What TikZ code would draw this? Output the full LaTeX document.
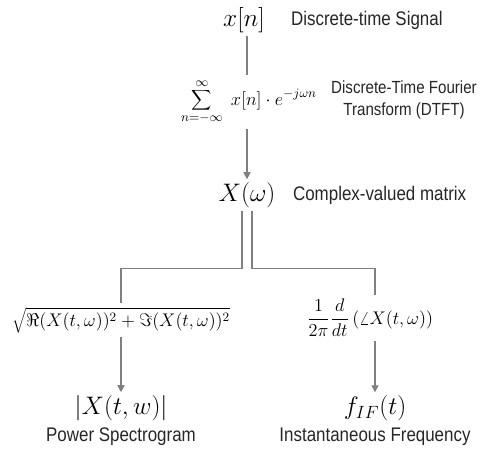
\RequirePackage{fix-cm}
\documentclass[tikz,border=0pt]{standalone}
\usepackage{fontspec}
\newfontfamily\arialn{Liberation Sans}[FakeStretch=0.86]
\usetikzlibrary{arrows.meta}
\definecolor{linegray}{gray}{0.5}
\tikzset{
  bigm/.style = {inner sep=2pt, font=\fontsize{18}{20}\selectfont},
  frm/.style  = {inner sep=3pt, font=\fontsize{13}{15}\selectfont},
  lbl/.style  = {inner sep=2pt, text=black!85, font=\arialn\fontsize{14}{16}\selectfont},
  link/.style = {draw=linegray, line width=1pt},
  arr/.style  = {link, -{Triangle[length=5pt,width=5pt]}}
}

\begin{document}
\begin{tikzpicture}[x=0.025cm, y=-0.025cm]
  \useasboundingbox (0,0) rectangle (480,450);
  % signal and transform
  \node[bigm] (xn) at (244,20) {$x[n]$};
  \node[lbl,anchor=west] (sig) at (288,20) {Discrete-time Signal};
  \node[frm] (dtft) at (249,102) {$\displaystyle\sum_{n=-\infty}^{\infty}\; x[n]\cdot e^{-j\omega n}$};
  \node[lbl,align=center,font=\arialn\fontsize{12.5}{16}\selectfont] (dtftlbl) at (404,100) {Discrete-Time Fourier\\Transform (DTFT)};
  \node[bigm] (Xw) at (247,195) {$X(\omega)$};
  \node[lbl,anchor=west] (cplx) at (290,195) {Complex-valued matrix};
  % the two branches
  \node[frm] (mag)   at (121,320) {$\displaystyle\sqrt{\Re(X(t,\omega))^2+\Im(X(t,\omega))^2}$};
  \node[frm] (ifreq) at (370,318) {$\displaystyle\frac{1}{2\pi}\frac{d}{dt}\,(\angle X(t,\omega))$};
  \node[bigm] (spec) at (121,408) {$|X(t,w)|$};
  \node[bigm] (fif)  at (375,408) {$f_{IF}(t)$};
  \node[lbl] (pspec) at (121,437) {Power Spectrogram};
  \node[lbl] (inst)  at (375,437) {Instantaneous Frequency};

  \draw[link] (xn.south -| Xw) -- (dtft.north -| Xw);
  \draw[arr]  (dtft.south -| Xw) -- (Xw);
  \draw[link] ([xshift=-3.5pt]Xw.south) -- ++(0,58) -| (mag.north);
  \draw[link] ([xshift=3.5pt]Xw.south) -- ++(0,58) -| (ifreq.north -| fif.north);
  \draw[arr]  (mag) -- (spec);
  \draw[arr]  (ifreq.south -| fif.north) -- (fif);
\end{tikzpicture}
\end{document}
